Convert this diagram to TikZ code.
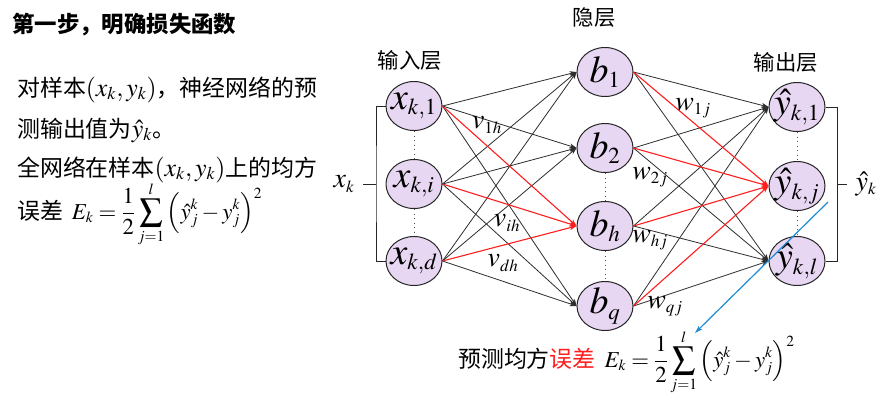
\documentclass[tikz,border=0pt]{standalone}
\usepackage{mathptmx}
\usepackage[no-math]{fontspec}
\setmainfont{Liberation Serif}
\newfontfamily\cjk{Noto Sans CJK SC}
\usetikzlibrary{arrows.meta,shapes.geometric}
\DeclareMathSizes{23}{26}{18}{13}
\DeclareMathSizes{38}{38}{23}{17}
\DeclareMathSizes{24}{28}{17}{12}
\DeclareMathSizes{22.9}{22.9}{15.5}{11.5}
\definecolor{nodefill}{RGB}{232,215,242}
\definecolor{edgegray}{RGB}{45,45,45}
\definecolor{myred}{RGB}{255,30,30}
\definecolor{myblue}{RGB}{30,140,210}
\newcommand{\lossformula}{{\fontsize{22.9}{22.9}\selectfont$\displaystyle E_k=\frac{1}{2}\sum_{j=1}^{l}\Big(\hat{y}_j^k-y_j^k\Big)^2$}}
\tikzset{
  neuron/.style={ellipse, draw=black!85, line width=1bp, fill=nodefill, minimum width=56bp, minimum height=49bp, inner sep=0pt},
  ntext/.style={inner sep=0pt, font=\fontsize{38}{38}\selectfont},
  conn/.style={draw=edgegray, line width=0.8bp, -{Stealth[length=7bp,width=5bp]}},
  hot/.style={draw=myred, line width=1.1bp, -{Stealth[length=7bp,width=5bp]}},
  wlabel/.style={inner sep=0pt, font=\fontsize{24}{24}\selectfont},
  cn/.style={inner sep=0pt, font=\cjk\fontsize{23}{23}\selectfont},
  layer/.style={inner sep=0pt, font=\cjk\fontsize{21.5}{21.5}\selectfont},
  dotsline/.style={draw=black!70, line width=1bp, dash pattern=on 1bp off 3.5bp},
  brack/.style={draw=black!85, line width=1bp},
}
\begin{document}
\begin{tikzpicture}[x=1bp,y=-1bp]
\useasboundingbox (0,0) rectangle (881,407);
% left text
\node[inner sep=0pt, anchor=base west, font=\cjk\bfseries\fontsize{22.5}{22.5}\selectfont] (title) at (12,32) {第一步，明确损失函数};
\node[cn, anchor=base west] (t1) at (17,96) {对样本$(x_k,y_k)$，神经网络的预};
\node[cn, anchor=base west] (t2) at (17,137) {测输出值为$\hat{y}_k$。};
\node[cn, anchor=base west] (t3) at (17,176) {全网络在样本$(x_k,y_k)$上的均方};
\node[cn, anchor=base west] (t4) at (17,219) {误差\, \lossformula};
% layer labels
\node[layer] (lin) at (410,60) {输入层};
\node[layer] (lhid) at (594,18) {隐层};
\node[layer] (lout) at (786,62) {输出层};
% neurons
\node[neuron] (x1) at (414,106) {};
\node[neuron] (xi) at (414,184) {};
\node[neuron] (xd) at (414,261) {};
\node[neuron] (b1) at (605,72) {};
\node[neuron] (b2) at (605,148) {};
\node[neuron] (bh) at (605,226) {};
\node[neuron] (bq) at (605,306) {};
\node[neuron] (y1) at (797,107) {};
\node[neuron] (yj) at (797,186) {};
\node[neuron] (yl) at (797,261) {};
\node[ntext] (x1t) at (x1) {$x_{k,1}$};
\node[ntext] (xit) at (xi) {$x_{k,i}$};
\node[ntext] (xdt) at (xd) {$x_{k,d}$};
\node[ntext] (b1t) at (b1) {$b_1$};
\node[ntext] (b2t) at (b2) {$b_2$};
\node[ntext] (bht) at (bh) {$b_h$};
\node[ntext] (bqt) at (bq) {$b_q$};
\node[ntext] (y1t) at (y1) {$\hat{y}_{k,1}$};
\node[ntext] (yjt) at (yj) {$\hat{y}_{k,j}$};
\node[ntext] (ylt) at (yl) {$\hat{y}_{k,l}$};
% dots
\draw[dotsline] (x1.south) -- (xi.north);
\draw[dotsline] (xi.south) -- (xd.north);
\draw[dotsline] (b2.south) -- (bh.north);
\draw[dotsline] (bh.south) -- (bq.north);
\draw[dotsline] (y1.south) -- (yj.north);
\draw[dotsline] (yj.south) -- (yl.north);
% edges input->hidden
\foreach \a in {x1,xi,xd}{
  \foreach \b in {b1,b2,bq}{
    \draw[conn] (\a.east) -- (\b.west);
  }
}
\foreach \a in {x1,xi,xd}{\draw[hot] (\a.east) -- (bh.west);}
% edges hidden->output
\foreach \a in {b1,b2,bh,bq}{
  \foreach \b in {y1,yl}{
    \draw[conn] (\a.east) -- (\b.west);
  }
}
\foreach \a in {b1,b2,bh,bq}{\draw[hot] (\a.east) -- (yj.west);}
% weight labels
\node[wlabel] (v1h) at (487,125) {$v_{1h}$};
\node[wlabel] (vih) at (507,223) {$v_{ih}$};
\node[wlabel] (vdh) at (503,263) {$v_{dh}$};
\node[wlabel] (w1j) at (693,108) {$w_{1j}$};
\node[wlabel] (w2j) at (650,177) {$w_{2j}$};
\node[wlabel] (whj) at (650,240) {$w_{hj}$};
\node[wlabel] (wqj) at (665,306) {$w_{qj}$};
% left bracket
\coordinate (lb) at (376,184);
\coordinate (lt) at (363,184);
\draw[brack] (x1.west) -| (lb) |- (xd.west);
\draw[brack] (lb) -- (lt);
\node[wlabel] (xk) at (344,184) {$x_k$};
% right bracket
\coordinate (rb) at (837,184);
\coordinate (rt) at (847,184);
\draw[brack] (y1.east) -| (rb) |- (yl.east);
\draw[brack] (rb) -- (rt);
\node[wlabel] (yk) at (866,184) {$\hat{y}_k$};
% bottom text and blue arrow
\node[cn, anchor=base west] (bottom) at (458,367) {预测均方{\color{myred}误差}\, \lossformula};
\coordinate (bs) at (828,202);
\coordinate (be) at (695,333);
\draw[draw=myblue, line width=1.2bp, -{Stealth[length=8bp,width=5bp]}] (bs) -- (be);
\end{tikzpicture}
\end{document}
